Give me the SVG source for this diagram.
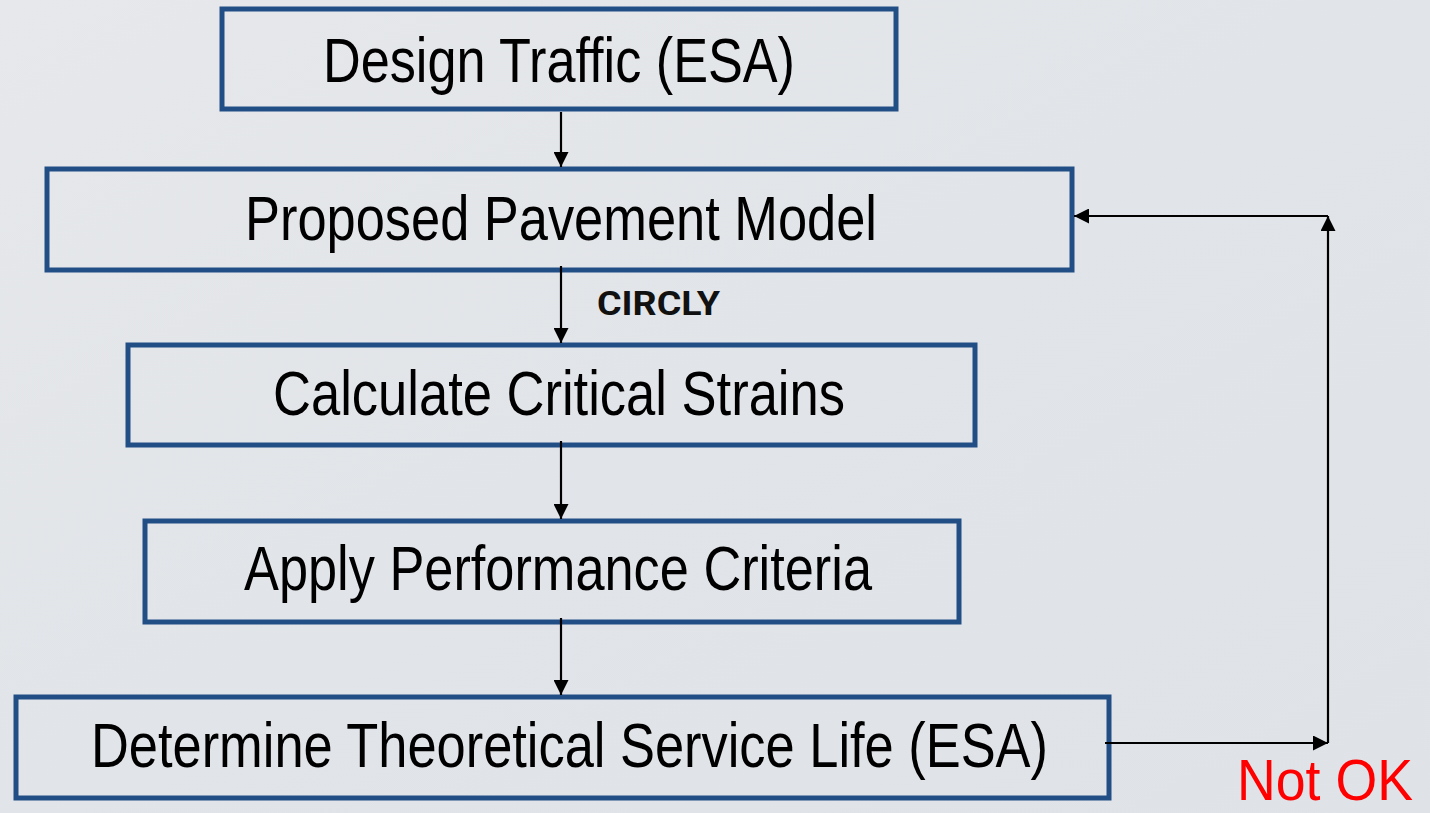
<svg xmlns="http://www.w3.org/2000/svg" width="1430" height="813" viewBox="0 0 1430 813">
  <defs>
    <linearGradient id="bg" x1="0" y1="0" x2="1" y2="1">
      <stop offset="0" stop-color="#e6e8eb"/>
      <stop offset="0.5" stop-color="#e1e4e8"/>
      <stop offset="1" stop-color="#dfe2e6"/>
    </linearGradient>
    <marker id="arrow" viewBox="0 0 10 10" refX="10" refY="5" markerWidth="17" markerHeight="15" markerUnits="userSpaceOnUse" orient="auto">
      <path d="M0,0 L10,5 L0,10 Z" fill="#000"/>
    </marker>
    <style>
      .box { fill: none; stroke: #224e86; stroke-width: 5; }
      .label { font-family: "Liberation Sans Narrow", "Liberation Sans", Arial, sans-serif; font-size: 63px; fill: #000; }
      .conn { fill: none; stroke: #000; stroke-width: 2.2; }
      .tag { font-family: Roboto, "Liberation Sans", sans-serif; font-weight: bold; font-size: 33px; fill: #111; }
      .warn { font-family: "Liberation Sans Narrow", "Liberation Sans", sans-serif; font-size: 57px; fill: #ff0000; }
    </style>
  </defs>

  <rect x="0" y="0" width="1430" height="813" fill="url(#bg)"/>

  <g id="design-traffic">
    <rect class="box" x="222" y="9" width="674" height="100"/>
    <text class="label" x="323" y="82" textLength="472" lengthAdjust="spacingAndGlyphs">Design Traffic (ESA)</text>
  </g>

  <g id="proposed-model">
    <rect class="box" x="47" y="169" width="1025" height="101"/>
    <text class="label" x="245" y="240" textLength="632" lengthAdjust="spacingAndGlyphs">Proposed Pavement Model</text>
  </g>

  <g id="critical-strains">
    <rect class="box" x="128" y="345" width="847" height="100"/>
    <text class="label" x="273" y="415" textLength="572" lengthAdjust="spacingAndGlyphs">Calculate Critical Strains</text>
  </g>

  <g id="performance-criteria">
    <rect class="box" x="145" y="521" width="814" height="101"/>
    <text class="label" x="244" y="590" textLength="628" lengthAdjust="spacingAndGlyphs">Apply Performance Criteria</text>
  </g>

  <g id="service-life">
    <rect class="box" x="16" y="697" width="1093" height="101"/>
    <text class="label" x="91" y="767" textLength="957" lengthAdjust="spacingAndGlyphs">Determine Theoretical Service Life (ESA)</text>
  </g>

  <g id="connectors">
    <line class="conn" x1="561" y1="112" x2="561" y2="167" marker-end="url(#arrow)"/>
    <line class="conn" x1="561" y1="266" x2="561" y2="343" marker-end="url(#arrow)"/>
    <line class="conn" x1="561" y1="441" x2="561" y2="519" marker-end="url(#arrow)"/>
    <line class="conn" x1="561" y1="618" x2="561" y2="695" marker-end="url(#arrow)"/>
    <line class="conn" x1="1105" y1="743" x2="1328" y2="743" marker-end="url(#arrow)"/>
    <line class="conn" x1="1328" y1="743" x2="1328" y2="216" marker-end="url(#arrow)"/>
    <line class="conn" x1="1328" y1="216" x2="1074" y2="216" marker-end="url(#arrow)"/>
    <text class="tag" x="597" y="315" textLength="123" lengthAdjust="spacingAndGlyphs">CIRCLY</text>
    <text class="warn" x="1237" y="800" textLength="176" lengthAdjust="spacingAndGlyphs">Not OK</text>
  </g>
</svg>
